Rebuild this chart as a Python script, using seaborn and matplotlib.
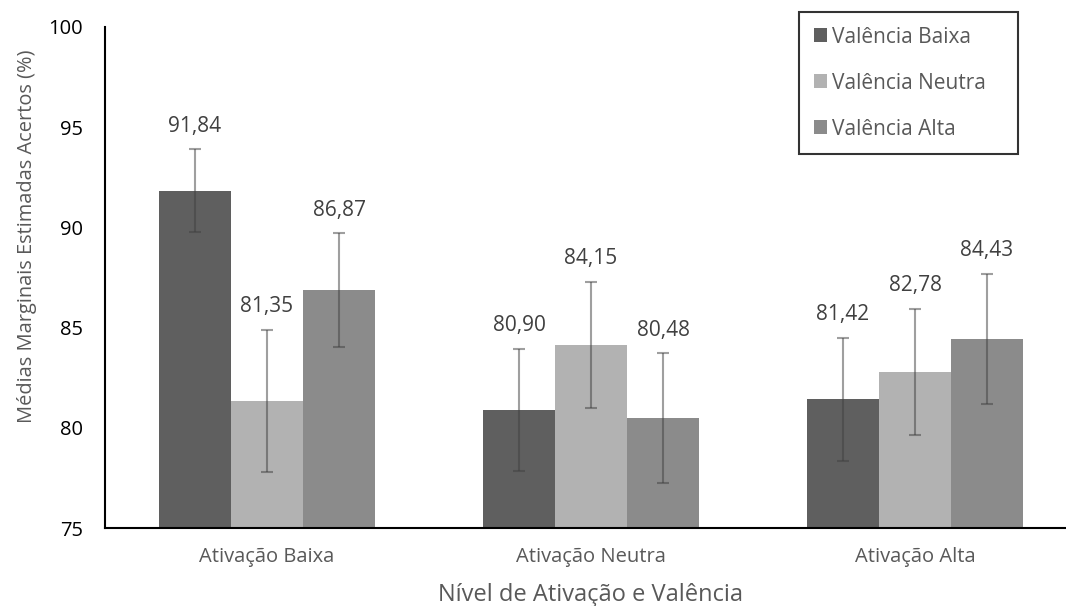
import pandas as pd
import matplotlib
matplotlib.use("Agg")
import matplotlib.pyplot as plt
import seaborn as sns

# Dados
ativacao = ["Ativação Baixa", "Ativação Neutra", "Ativação Alta"]
valencia = ["Valência Baixa", "Valência Neutra", "Valência Alta"]
medias_val_baixa = [91.84, 80.90, 81.42]
medias_val_neutra = [81.35, 84.15, 82.78]
medias_val_alta = [86.87, 80.48, 84.43]
erro_val_baixa = [2.05, 3.05, 3.08]
erro_val_neutra = [3.55, 3.15, 3.15]
erro_val_alta = [2.85, 3.25, 3.25]
rotulos_y = [75, 80, 85, 90, 95, 100]

cores = ["#5f5f5f", "#b2b2b2", "#8b8b8b"]

medias = [medias_val_baixa, medias_val_neutra, medias_val_alta]
erros = [erro_val_baixa, erro_val_neutra, erro_val_alta]
linhas = []
for v, vals in zip(valencia, medias):
    for a, m in zip(ativacao, vals):
        linhas.append({"ativacao": a, "valencia": v, "media": m})
df = pd.DataFrame(linhas)

sns.set_style("white")
plt.rcParams["font.family"] = ["Open Sans", "DejaVu Sans"]

fig = plt.figure(figsize=(10.66, 6.06), dpi=100)
ax = fig.add_axes([105 / 1066, 78 / 606, 972 / 1066, 501 / 606])

sns.barplot(data=df, x="ativacao", y="media", hue="valencia", order=ativacao,
            hue_order=valencia, palette=cores, saturation=1, width=0.667,
            gap=0, ax=ax, errorbar=None, legend=True, linewidth=0)

# barras de erro e rótulos de valor
for cont, vals, errs in zip(ax.containers, medias, erros):
    for bar, m, e in zip(cont, vals, errs):
        x = bar.get_x() + bar.get_width() / 2
        ax.errorbar(x, m, yerr=e, color="#404040", alpha=0.5, elinewidth=1.5,
                    capsize=4.5, capthick=1.5, zorder=3)
        ax.annotate(f"{m:.2f}".replace(".", ","), (x, m + e), xytext=(0, 9),
                    textcoords="offset points", ha="center", va="bottom",
                    fontsize=15, color="#404040")

ax.set_ylim(75, 100)
ax.set_yticks(rotulos_y)
ax.set_yticklabels([str(t) for t in rotulos_y], fontsize=14.5, color="black")
ax.tick_params(axis="x", labelsize=14.5, colors="#595959", length=0, pad=14)
ax.tick_params(axis="y", length=0, pad=16)
ax.set_xlim(-0.5, 2.5)

ax.set_xlabel("Nível de Ativação e Valência", fontsize=17, color="#595959", labelpad=11)
ax.set_ylabel("Médias Marginais Estimadas Acertos (%)", fontsize=14.4, color="#595959",
              labelpad=8, y=0.583)

for lado in ["top", "right"]:
    ax.spines[lado].set_visible(False)
for lado in ["left", "bottom"]:
    ax.spines[lado].set_color("black")
    ax.spines[lado].set_linewidth(1.5)

handles, labels = ax.get_legend_handles_labels()
leg = ax.legend(handles, labels, loc="upper left", mode="expand",
                bbox_to_anchor=(799 / 1066, 454 / 606, 219 / 1066, 140 / 606),
                bbox_transform=fig.transFigure, fontsize=15, frameon=True,
                fancybox=False, edgecolor="black", handlelength=0.63,
                handleheight=0.63, handletextpad=0.25, labelspacing=1.2,
                borderpad=0.7, borderaxespad=0)
leg.get_frame().set_linewidth(1.5)
for t in leg.get_texts():
    t.set_color("#595959")

fig.savefig("out.png", dpi=100)
